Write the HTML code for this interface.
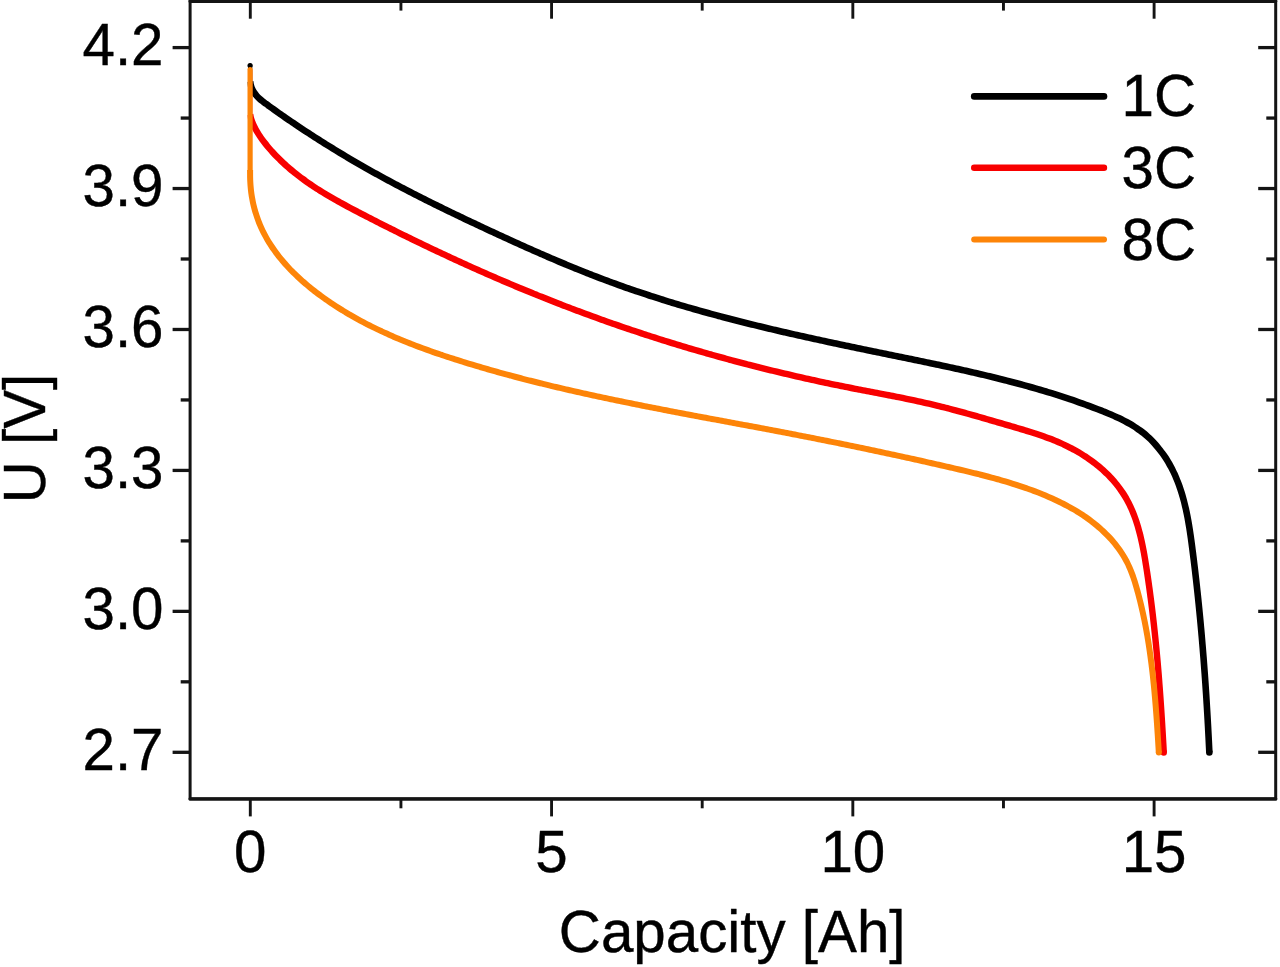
<!DOCTYPE html>
<html lang="en"><head><meta charset="utf-8"><title>Discharge curves</title>
<style>
html,body{margin:0;padding:0;background:#fff;}
body{width:1280px;height:967px;overflow:hidden;}
svg{display:block;}
</style></head><body>
<svg width="1280" height="967" viewBox="0 0 1280 967">
<rect x="0" y="0" width="1280" height="967" fill="#ffffff"/>
<g fill="none" stroke-linecap="round" stroke-linejoin="round">
<clipPath id="rightOfStart"><rect x="247.60" y="0" width="1100" height="967"/></clipPath>
<path d="M250.10 65.60 L250.13 81.51" stroke="#000000" stroke-width="4.2"/>
<circle cx="250.10" cy="65.60" r="2.60" fill="#000000" stroke="none"/>
<path d="M250.13 81.51 C250.25 82.17 250.49 84.17 250.83 85.46 C251.18 86.75 251.64 88.02 252.20 89.23 C252.76 90.44 253.45 91.61 254.20 92.72 C254.95 93.83 255.81 94.86 256.70 95.86 C257.59 96.86 258.56 97.79 259.55 98.70 C260.54 99.61 261.58 100.46 262.62 101.30 C263.66 102.14 264.74 102.93 265.81 103.73 C266.88 104.53 267.98 105.31 269.07 106.09 C270.16 106.87 271.25 107.65 272.34 108.43 C273.43 109.21 274.53 109.99 275.62 110.76 C276.71 111.53 277.80 112.31 278.90 113.08 C280.00 113.85 281.10 114.61 282.20 115.38 C283.30 116.14 284.40 116.91 285.50 117.67 C286.60 118.43 287.71 119.19 288.82 119.95 C289.93 120.71 291.03 121.46 292.14 122.21 C293.25 122.96 294.36 123.72 295.47 124.47 C296.58 125.22 297.69 125.97 298.80 126.71 C299.91 127.45 301.03 128.19 302.15 128.93 C303.27 129.67 304.39 130.41 305.51 131.15 C306.63 131.89 307.75 132.62 308.87 133.35 C309.99 134.08 311.12 134.81 312.24 135.54 C313.37 136.27 314.49 137.00 315.62 137.72 C316.75 138.44 317.88 139.17 319.01 139.89 C320.14 140.61 321.27 141.32 322.40 142.04 C323.53 142.75 324.67 143.47 325.81 144.18 C326.95 144.89 328.08 145.59 329.22 146.30 C330.36 147.01 331.50 147.72 332.64 148.42 C333.78 149.12 334.93 149.82 336.07 150.52 C337.21 151.22 338.35 151.92 339.50 152.61 C340.65 153.30 341.80 153.99 342.95 154.68 C344.10 155.37 345.25 156.06 346.40 156.74 C347.55 157.43 348.71 158.11 349.86 158.79 C351.01 159.47 352.17 160.15 353.33 160.83 C354.49 161.51 355.64 162.18 356.80 162.85 C357.96 163.52 359.12 164.19 360.28 164.86 C361.44 165.53 362.60 166.20 363.77 166.86 C364.94 167.53 366.10 168.19 367.27 168.85 C368.44 169.51 369.60 170.16 370.77 170.82 C371.94 171.47 373.11 172.13 374.28 172.78 C375.45 173.43 376.63 174.08 377.80 174.73 C378.97 175.38 380.14 176.02 381.32 176.66 C382.50 177.30 383.67 177.95 384.85 178.59 C386.03 179.23 387.21 179.87 388.39 180.50 C389.57 181.13 390.75 181.77 391.93 182.40 C393.11 183.03 394.30 183.66 395.48 184.29 C396.66 184.92 397.84 185.54 399.03 186.17 C400.21 186.79 401.40 187.42 402.59 188.04 C403.78 188.66 404.97 189.28 406.16 189.90 C407.35 190.52 408.54 191.13 409.73 191.74 C410.92 192.35 412.11 192.97 413.30 193.58 C414.49 194.19 415.69 194.80 416.88 195.41 C418.07 196.02 419.27 196.62 420.47 197.23 C421.67 197.83 422.86 198.44 424.06 199.04 C425.26 199.64 426.45 200.25 427.65 200.85 C428.85 201.45 430.05 202.04 431.25 202.64 C432.45 203.24 433.65 203.84 434.85 204.43 C436.05 205.02 437.26 205.61 438.46 206.20 C439.66 206.79 440.87 207.38 442.07 207.97 C443.27 208.56 444.48 209.15 445.68 209.74 C446.88 210.33 448.09 210.91 449.30 211.49 C450.51 212.07 451.71 212.66 452.92 213.24 C454.13 213.82 455.33 214.41 456.54 214.99 C457.75 215.57 458.96 216.14 460.17 216.72 C461.38 217.30 462.58 217.87 463.79 218.45 C465.00 219.03 466.22 219.61 467.43 220.18 C468.64 220.75 469.85 221.33 471.06 221.90 C472.27 222.47 473.49 223.04 474.70 223.61 C475.91 224.18 477.13 224.75 478.34 225.32 C479.55 225.89 480.77 226.46 481.98 227.03 C483.19 227.60 484.41 228.16 485.62 228.73 C486.83 229.30 488.04 229.87 489.26 230.43 C490.48 231.00 491.69 231.56 492.91 232.12 C494.13 232.68 495.34 233.25 496.56 233.81 C497.78 234.37 498.99 234.93 500.21 235.49 C501.43 236.05 502.64 236.61 503.86 237.17 C505.08 237.73 506.30 238.29 507.52 238.85 C508.74 239.41 509.95 239.97 511.17 240.52 C512.39 241.08 513.61 241.63 514.83 242.18 C516.05 242.73 517.28 243.29 518.50 243.84 C519.72 244.39 520.94 244.94 522.16 245.49 C523.38 246.04 524.61 246.59 525.83 247.14 C527.05 247.69 528.27 248.24 529.50 248.78 C530.73 249.32 531.95 249.87 533.18 250.41 C534.41 250.95 535.63 251.49 536.86 252.03 C538.09 252.57 539.31 253.11 540.54 253.65 C541.77 254.19 542.99 254.72 544.22 255.25 C545.45 255.78 546.68 256.32 547.91 256.85 C549.14 257.38 550.37 257.91 551.60 258.44 C552.83 258.97 554.07 259.50 555.30 260.02 C556.53 260.54 557.76 261.07 559.00 261.59 C560.24 262.11 561.47 262.63 562.71 263.15 C563.95 263.67 565.18 264.19 566.42 264.70 C567.66 265.21 568.89 265.73 570.13 266.24 C571.37 266.75 572.61 267.26 573.85 267.77 C575.09 268.28 576.34 268.78 577.58 269.28 C578.82 269.78 580.06 270.28 581.30 270.78 C582.54 271.28 583.79 271.78 585.04 272.28 C586.29 272.78 587.53 273.27 588.78 273.76 C590.03 274.25 591.27 274.74 592.52 275.22 C593.77 275.71 595.02 276.19 596.27 276.67 C597.52 277.15 598.77 277.63 600.02 278.11 C601.27 278.59 602.52 279.07 603.78 279.54 C605.03 280.01 606.29 280.48 607.55 280.95 C608.81 281.42 610.06 281.88 611.32 282.34 C612.58 282.80 613.84 283.26 615.10 283.72 C616.36 284.18 617.62 284.64 618.88 285.09 C620.14 285.54 621.40 285.99 622.66 286.44 C623.92 286.89 625.20 287.33 626.46 287.77 C627.73 288.21 628.98 288.65 630.25 289.09 C631.52 289.53 632.79 289.97 634.06 290.40 C635.33 290.83 636.59 291.26 637.86 291.69 C639.13 292.12 640.40 292.55 641.67 292.97 C642.94 293.40 644.22 293.82 645.49 294.24 C646.76 294.66 648.03 295.07 649.31 295.49 C650.58 295.91 651.87 296.32 653.14 296.73 C654.41 297.14 655.68 297.54 656.96 297.95 C658.24 298.36 659.52 298.77 660.80 299.17 C662.08 299.57 663.35 299.97 664.63 300.37 C665.91 300.77 667.20 301.16 668.48 301.55 C669.76 301.94 671.04 302.34 672.32 302.73 C673.60 303.12 674.89 303.50 676.17 303.89 C677.45 304.27 678.74 304.66 680.02 305.04 C681.30 305.42 682.59 305.80 683.88 306.18 C685.17 306.56 686.45 306.94 687.74 307.31 C689.03 307.69 690.31 308.06 691.60 308.43 C692.89 308.80 694.17 309.16 695.46 309.53 C696.75 309.90 698.04 310.27 699.33 310.63 C700.62 310.99 701.91 311.35 703.20 311.71 C704.49 312.07 705.79 312.42 707.08 312.78 C708.37 313.14 709.67 313.50 710.96 313.85 C712.25 314.20 713.55 314.55 714.84 314.90 C716.13 315.25 717.43 315.59 718.72 315.94 C720.01 316.29 721.32 316.63 722.61 316.97 C723.90 317.31 725.20 317.66 726.49 318.00 C727.78 318.34 729.08 318.68 730.38 319.01 C731.68 319.34 732.98 319.68 734.28 320.01 C735.58 320.34 736.87 320.68 738.17 321.01 C739.47 321.34 740.77 321.67 742.07 322.00 C743.37 322.33 744.67 322.66 745.97 322.98 C747.27 323.31 748.57 323.63 749.87 323.95 C751.17 324.27 752.48 324.59 753.78 324.91 C755.08 325.23 756.38 325.54 757.68 325.86 C758.98 326.18 760.29 326.50 761.59 326.81 C762.89 327.12 764.20 327.44 765.50 327.75 C766.80 328.06 768.11 328.37 769.41 328.68 C770.71 328.99 772.02 329.29 773.32 329.60 C774.62 329.91 775.94 330.21 777.24 330.52 C778.54 330.82 779.85 331.13 781.15 331.43 C782.45 331.73 783.76 332.04 785.07 332.34 C786.38 332.64 787.68 332.93 788.99 333.23 C790.30 333.53 791.60 333.83 792.91 334.13 C794.22 334.43 795.52 334.72 796.83 335.01 C798.14 335.30 799.44 335.60 800.75 335.89 C802.06 336.18 803.37 336.48 804.68 336.77 C805.99 337.06 807.29 337.35 808.60 337.64 C809.91 337.93 811.22 338.21 812.53 338.50 C813.84 338.79 815.15 339.07 816.46 339.36 C817.77 339.65 819.07 339.94 820.38 340.22 C821.69 340.50 823.00 340.79 824.31 341.07 C825.62 341.35 826.93 341.64 828.24 341.92 C829.55 342.20 830.86 342.48 832.17 342.76 C833.48 343.04 834.80 343.32 836.11 343.60 C837.42 343.88 838.73 344.15 840.04 344.43 C841.35 344.71 842.66 344.99 843.97 345.27 C845.28 345.55 846.60 345.83 847.91 346.10 C849.22 346.38 850.53 346.65 851.84 346.92 C853.15 347.19 854.47 347.47 855.78 347.74 C857.09 348.01 858.40 348.30 859.71 348.57 C861.02 348.84 862.34 349.11 863.65 349.38 C864.96 349.65 866.28 349.93 867.59 350.20 C868.90 350.47 870.21 350.74 871.52 351.01 C872.83 351.28 874.15 351.56 875.46 351.83 C876.77 352.10 878.09 352.37 879.40 352.64 C880.71 352.91 882.03 353.18 883.34 353.45 C884.65 353.72 885.96 353.98 887.27 354.25 C888.58 354.52 889.90 354.79 891.21 355.06 C892.52 355.33 893.84 355.60 895.15 355.87 C896.46 356.14 897.78 356.41 899.09 356.68 C900.40 356.95 901.72 357.21 903.03 357.48 C904.34 357.75 905.66 358.02 906.97 358.29 C908.28 358.56 909.60 358.83 910.91 359.10 C912.22 359.37 913.53 359.64 914.84 359.91 C916.15 360.18 917.47 360.45 918.78 360.72 C920.09 360.99 921.41 361.27 922.72 361.54 C924.03 361.81 925.34 362.09 926.65 362.36 C927.96 362.63 929.28 362.91 930.59 363.18 C931.90 363.45 933.21 363.73 934.52 364.01 C935.83 364.29 937.15 364.56 938.46 364.84 C939.77 365.12 941.08 365.40 942.39 365.68 C943.70 365.96 945.01 366.24 946.32 366.52 C947.63 366.80 948.94 367.08 950.25 367.37 C951.56 367.66 952.87 367.94 954.18 368.23 C955.49 368.52 956.80 368.80 958.11 369.09 C959.42 369.38 960.72 369.67 962.03 369.96 C963.34 370.25 964.64 370.54 965.95 370.84 C967.26 371.13 968.57 371.43 969.88 371.73 C971.19 372.03 972.48 372.32 973.79 372.62 C975.10 372.92 976.40 373.22 977.71 373.53 C979.02 373.83 980.33 374.14 981.63 374.45 C982.93 374.76 984.24 375.06 985.54 375.37 C986.84 375.68 988.15 376.00 989.45 376.31 C990.75 376.62 992.05 376.94 993.35 377.26 C994.65 377.58 995.96 377.90 997.26 378.22 C998.56 378.54 999.86 378.87 1001.16 379.20 C1002.46 379.53 1003.76 379.85 1005.06 380.18 C1006.36 380.51 1007.65 380.85 1008.95 381.19 C1010.25 381.53 1011.54 381.86 1012.84 382.20 C1014.14 382.54 1015.44 382.88 1016.73 383.23 C1018.02 383.58 1019.32 383.92 1020.61 384.27 C1021.90 384.62 1023.20 384.97 1024.49 385.33 C1025.78 385.69 1027.07 386.05 1028.36 386.41 C1029.65 386.77 1030.94 387.13 1032.23 387.50 C1033.52 387.87 1034.81 388.24 1036.10 388.61 C1037.39 388.98 1038.67 389.35 1039.96 389.73 C1041.25 390.11 1042.53 390.50 1043.81 390.88 C1045.09 391.26 1046.38 391.65 1047.66 392.04 C1048.94 392.43 1050.22 392.82 1051.50 393.22 C1052.78 393.62 1054.06 394.02 1055.34 394.42 C1056.62 394.82 1057.89 395.22 1059.17 395.63 C1060.45 396.04 1061.72 396.45 1063.00 396.87 C1064.28 397.29 1065.55 397.71 1066.82 398.13 C1068.09 398.55 1069.36 398.98 1070.63 399.41 C1071.90 399.84 1073.16 400.27 1074.43 400.71 C1075.70 401.15 1076.97 401.58 1078.23 402.03 C1079.49 402.47 1080.76 402.93 1082.02 403.38 C1083.28 403.83 1084.54 404.28 1085.80 404.74 C1087.06 405.20 1088.31 405.66 1089.57 406.13 C1090.83 406.60 1092.09 407.06 1093.34 407.54 C1094.59 408.02 1095.84 408.50 1097.09 408.98 C1098.34 409.46 1099.59 409.95 1100.84 410.44 C1102.09 410.93 1103.33 411.42 1104.57 411.92 C1105.81 412.42 1107.05 412.93 1108.29 413.45 C1109.53 413.97 1110.76 414.49 1111.99 415.02 C1113.22 415.55 1114.45 416.09 1115.67 416.65 C1116.89 417.20 1118.11 417.77 1119.32 418.35 C1120.53 418.93 1121.73 419.51 1122.92 420.12 C1124.11 420.73 1125.30 421.35 1126.48 421.99 C1127.66 422.63 1128.83 423.28 1129.99 423.95 C1131.15 424.62 1132.30 425.31 1133.44 426.02 C1134.58 426.73 1135.70 427.45 1136.81 428.20 C1137.92 428.95 1139.02 429.72 1140.10 430.51 C1141.18 431.30 1142.25 432.11 1143.30 432.95 C1144.35 433.79 1145.38 434.65 1146.39 435.53 C1147.40 436.41 1148.39 437.31 1149.36 438.23 C1150.33 439.15 1151.29 440.10 1152.22 441.06 C1153.15 442.02 1154.07 443.00 1154.97 443.99 C1155.87 444.99 1156.74 446.00 1157.60 447.03 C1158.46 448.06 1159.30 449.10 1160.12 450.16 C1160.94 451.22 1161.74 452.29 1162.53 453.38 C1163.32 454.47 1164.08 455.57 1164.83 456.68 C1165.58 457.79 1166.30 458.92 1167.01 460.06 C1167.72 461.20 1168.40 462.35 1169.07 463.51 C1169.74 464.67 1170.39 465.85 1171.02 467.03 C1171.65 468.21 1172.26 469.40 1172.85 470.60 C1173.44 471.80 1174.02 473.01 1174.58 474.23 C1175.14 475.45 1175.67 476.69 1176.19 477.92 C1176.71 479.16 1177.21 480.39 1177.70 481.64 C1178.19 482.89 1178.66 484.15 1179.12 485.41 C1179.57 486.67 1180.01 487.94 1180.43 489.21 C1180.85 490.48 1181.26 491.75 1181.65 493.03 C1182.04 494.31 1182.42 495.60 1182.79 496.89 C1183.16 498.18 1183.51 499.47 1183.85 500.77 C1184.19 502.07 1184.51 503.37 1184.83 504.67 C1185.15 505.97 1185.45 507.27 1185.75 508.58 C1186.05 509.89 1186.33 511.20 1186.60 512.51 C1186.87 513.82 1187.13 515.13 1187.39 516.45 C1187.65 517.77 1187.89 519.09 1188.13 520.41 C1188.37 521.73 1188.60 523.05 1188.82 524.37 C1189.04 525.69 1189.26 527.01 1189.47 528.33 C1189.68 529.65 1189.88 530.98 1190.08 532.31 C1190.28 533.64 1190.48 534.96 1190.67 536.29 C1190.86 537.62 1191.04 538.94 1191.22 540.27 C1191.40 541.60 1191.58 542.92 1191.76 544.25 C1191.94 545.58 1192.11 546.91 1192.28 548.24 C1192.45 549.57 1192.62 550.90 1192.79 552.23 C1192.96 553.56 1193.12 554.89 1193.29 556.22 C1193.46 557.55 1193.63 558.88 1193.79 560.21 C1193.95 561.54 1194.11 562.87 1194.27 564.20 C1194.43 565.53 1194.59 566.86 1194.75 568.19 C1194.91 569.52 1195.07 570.85 1195.22 572.18 C1195.38 573.51 1195.53 574.85 1195.68 576.18 C1195.83 577.51 1195.99 578.84 1196.14 580.17 C1196.29 581.50 1196.43 582.84 1196.58 584.17 C1196.73 585.50 1196.87 586.83 1197.02 588.16 C1197.17 589.49 1197.32 590.83 1197.46 592.16 C1197.60 593.49 1197.74 594.83 1197.88 596.16 C1198.02 597.49 1198.16 598.83 1198.30 600.16 C1198.44 601.49 1198.58 602.83 1198.71 604.16 C1198.85 605.49 1198.98 606.83 1199.11 608.16 C1199.24 609.49 1199.37 610.83 1199.50 612.16 C1199.63 613.49 1199.76 614.83 1199.89 616.16 C1200.02 617.49 1200.14 618.83 1200.27 620.16 C1200.40 621.49 1200.53 622.82 1200.65 624.16 C1200.77 625.50 1200.89 626.83 1201.01 628.17 C1201.13 629.50 1201.25 630.83 1201.37 632.17 C1201.49 633.50 1201.61 634.84 1201.73 636.18 C1201.85 637.51 1201.96 638.84 1202.07 640.18 C1202.18 641.51 1202.30 642.85 1202.41 644.19 C1202.52 645.53 1202.64 646.87 1202.75 648.20 C1202.86 649.54 1202.96 650.87 1203.07 652.20 C1203.18 653.54 1203.28 654.87 1203.39 656.21 C1203.50 657.55 1203.61 658.88 1203.71 660.22 C1203.81 661.56 1203.91 662.89 1204.01 664.23 C1204.11 665.57 1204.21 666.90 1204.31 668.24 C1204.41 669.58 1204.51 670.91 1204.61 672.25 C1204.71 673.59 1204.81 674.92 1204.90 676.26 C1205.00 677.60 1205.09 678.93 1205.18 680.27 C1205.27 681.61 1205.37 682.94 1205.46 684.28 C1205.55 685.62 1205.64 686.95 1205.73 688.29 C1205.82 689.63 1205.91 690.96 1206.00 692.30 C1206.09 693.64 1206.17 694.97 1206.26 696.31 C1206.35 697.65 1206.43 698.98 1206.51 700.32 C1206.59 701.66 1206.68 703.00 1206.76 704.34 C1206.84 705.68 1206.92 707.01 1207.00 708.35 C1207.08 709.69 1207.16 711.02 1207.24 712.36 C1207.32 713.70 1207.39 715.04 1207.47 716.38 C1207.55 717.72 1207.62 719.05 1207.70 720.39 C1207.78 721.73 1207.85 723.07 1207.92 724.41 C1207.99 725.75 1208.07 727.08 1208.14 728.42 C1208.21 729.76 1208.28 731.10 1208.35 732.44 C1208.42 733.78 1208.49 735.11 1208.56 736.45 C1208.63 737.79 1208.70 739.13 1208.77 740.47 C1208.84 741.81 1208.89 743.14 1208.96 744.48 C1209.03 745.82 1209.10 747.16 1209.16 748.50 C1209.23 749.84 1209.32 751.84 1209.35 752.51" stroke="#000000" stroke-width="6.6" stroke-linecap="butt" clip-path="url(#rightOfStart)"/>
<circle cx="1209.35" cy="752.51" r="3.30" fill="#000000" stroke="none"/>
<path d="M250.10 70.00 L250.18 114.49" stroke="#f80000" stroke-width="4.2"/>
<path d="M250.18 114.49 C250.32 115.14 250.64 117.13 251.00 118.42 C251.36 119.71 251.84 120.96 252.33 122.21 C252.82 123.45 253.36 124.68 253.93 125.89 C254.50 127.10 255.12 128.28 255.76 129.46 C256.40 130.64 257.08 131.80 257.78 132.94 C258.48 134.08 259.20 135.20 259.95 136.31 C260.70 137.42 261.47 138.52 262.26 139.60 C263.05 140.68 263.86 141.75 264.68 142.81 C265.50 143.87 266.35 144.91 267.20 145.94 C268.05 146.97 268.92 148.00 269.79 149.01 C270.67 150.02 271.55 151.03 272.45 152.02 C273.35 153.01 274.26 153.99 275.18 154.96 C276.10 155.93 277.04 156.89 277.98 157.84 C278.92 158.79 279.88 159.73 280.84 160.66 C281.80 161.59 282.78 162.51 283.76 163.42 C284.74 164.33 285.74 165.22 286.74 166.11 C287.74 167.00 288.76 167.87 289.78 168.74 C290.80 169.61 291.82 170.47 292.86 171.32 C293.90 172.17 294.94 173.00 295.99 173.83 C297.04 174.66 298.10 175.48 299.17 176.29 C300.24 177.10 301.31 177.91 302.39 178.70 C303.47 179.49 304.55 180.28 305.64 181.05 C306.73 181.83 307.83 182.59 308.93 183.35 C310.03 184.11 311.15 184.87 312.26 185.61 C313.37 186.36 314.49 187.09 315.61 187.82 C316.73 188.55 317.86 189.26 318.99 189.98 C320.12 190.69 321.26 191.41 322.40 192.11 C323.54 192.81 324.68 193.51 325.83 194.20 C326.98 194.89 328.13 195.57 329.29 196.25 C330.45 196.93 331.60 197.60 332.76 198.27 C333.92 198.94 335.08 199.60 336.25 200.26 C337.42 200.92 338.58 201.58 339.75 202.23 C340.92 202.88 342.09 203.53 343.27 204.17 C344.44 204.81 345.62 205.45 346.80 206.08 C347.98 206.72 349.16 207.35 350.34 207.98 C351.52 208.61 352.70 209.24 353.89 209.86 C355.07 210.48 356.26 211.10 357.45 211.72 C358.64 212.34 359.82 212.96 361.01 213.58 C362.20 214.20 363.39 214.81 364.58 215.42 C365.77 216.03 366.96 216.65 368.15 217.26 C369.34 217.87 370.54 218.48 371.73 219.09 C372.92 219.70 374.11 220.31 375.30 220.92 C376.49 221.53 377.69 222.13 378.88 222.74 C380.07 223.35 381.28 223.96 382.47 224.56 C383.67 225.16 384.86 225.76 386.05 226.36 C387.25 226.96 388.44 227.57 389.64 228.17 C390.84 228.77 392.04 229.36 393.24 229.96 C394.44 230.56 395.63 231.15 396.83 231.75 C398.03 232.35 399.23 232.95 400.43 233.54 C401.63 234.13 402.83 234.72 404.03 235.31 C405.23 235.90 406.44 236.49 407.64 237.08 C408.84 237.67 410.05 238.26 411.25 238.85 C412.45 239.44 413.66 240.03 414.86 240.61 C416.06 241.20 417.28 241.78 418.48 242.36 C419.69 242.94 420.88 243.52 422.09 244.10 C423.30 244.68 424.51 245.26 425.72 245.84 C426.93 246.42 428.13 246.99 429.34 247.57 C430.55 248.15 431.76 248.73 432.97 249.30 C434.18 249.87 435.39 250.44 436.60 251.01 C437.81 251.58 439.02 252.15 440.23 252.72 C441.44 253.29 442.66 253.86 443.87 254.43 C445.08 255.00 446.29 255.56 447.51 256.12 C448.73 256.68 449.95 257.25 451.16 257.81 C452.38 258.37 453.58 258.94 454.80 259.50 C456.02 260.06 457.24 260.61 458.46 261.17 C459.68 261.73 460.89 262.28 462.11 262.84 C463.33 263.39 464.55 263.95 465.77 264.50 C466.99 265.05 468.21 265.60 469.43 266.15 C470.65 266.70 471.87 267.25 473.09 267.80 C474.31 268.35 475.54 268.89 476.76 269.44 C477.98 269.99 479.21 270.53 480.43 271.07 C481.65 271.61 482.88 272.15 484.10 272.69 C485.33 273.23 486.55 273.77 487.78 274.31 C489.01 274.85 490.23 275.38 491.46 275.92 C492.69 276.46 493.92 276.99 495.15 277.52 C496.38 278.05 497.61 278.58 498.84 279.11 C500.07 279.64 501.30 280.16 502.53 280.69 C503.76 281.22 504.99 281.75 506.22 282.27 C507.45 282.79 508.69 283.32 509.92 283.84 C511.15 284.36 512.39 284.88 513.62 285.40 C514.85 285.92 516.09 286.43 517.32 286.95 C518.56 287.47 519.79 287.99 521.03 288.50 C522.27 289.01 523.50 289.52 524.74 290.03 C525.98 290.54 527.22 291.05 528.46 291.56 C529.70 292.07 530.94 292.57 532.18 293.08 C533.42 293.58 534.66 294.09 535.90 294.59 C537.14 295.09 538.38 295.60 539.62 296.10 C540.86 296.60 542.11 297.09 543.35 297.59 C544.59 298.09 545.84 298.58 547.08 299.08 C548.33 299.57 549.57 300.07 550.82 300.56 C552.07 301.05 553.31 301.54 554.56 302.03 C555.81 302.52 557.05 303.00 558.30 303.49 C559.55 303.98 560.79 304.46 562.04 304.94 C563.29 305.42 564.54 305.90 565.79 306.38 C567.04 306.86 568.29 307.34 569.54 307.82 C570.79 308.30 572.05 308.77 573.30 309.24 C574.55 309.71 575.81 310.19 577.06 310.66 C578.31 311.13 579.57 311.60 580.82 312.07 C582.08 312.54 583.33 313.00 584.59 313.47 C585.85 313.94 587.10 314.40 588.36 314.86 C589.62 315.32 590.87 315.78 592.13 316.24 C593.39 316.70 594.64 317.16 595.90 317.61 C597.16 318.06 598.42 318.52 599.68 318.97 C600.94 319.42 602.20 319.87 603.46 320.32 C604.72 320.77 605.99 321.22 607.25 321.67 C608.51 322.12 609.78 322.56 611.04 323.00 C612.30 323.44 613.57 323.89 614.83 324.33 C616.10 324.77 617.37 325.20 618.63 325.64 C619.89 326.08 621.15 326.52 622.42 326.95 C623.69 327.38 624.96 327.81 626.23 328.24 C627.50 328.67 628.76 329.10 630.03 329.53 C631.30 329.96 632.57 330.38 633.84 330.81 C635.11 331.24 636.38 331.66 637.65 332.08 C638.92 332.50 640.19 332.92 641.46 333.34 C642.73 333.76 644.01 334.17 645.28 334.59 C646.55 335.00 647.83 335.42 649.10 335.83 C650.38 336.24 651.65 336.65 652.93 337.06 C654.20 337.47 655.48 337.87 656.75 338.28 C658.02 338.69 659.30 339.10 660.58 339.50 C661.86 339.90 663.13 340.30 664.41 340.70 C665.69 341.10 666.97 341.50 668.25 341.90 C669.53 342.30 670.81 342.69 672.09 343.08 C673.37 343.47 674.65 343.87 675.93 344.26 C677.21 344.65 678.49 345.04 679.77 345.43 C681.05 345.82 682.34 346.20 683.62 346.59 C684.90 346.97 686.19 347.36 687.47 347.74 C688.75 348.12 690.04 348.50 691.32 348.88 C692.60 349.26 693.88 349.63 695.17 350.01 C696.45 350.38 697.74 350.76 699.03 351.13 C700.32 351.50 701.60 351.87 702.89 352.24 C704.18 352.61 705.46 352.98 706.75 353.35 C708.04 353.72 709.32 354.08 710.61 354.44 C711.90 354.80 713.19 355.17 714.48 355.53 C715.77 355.89 717.06 356.25 718.35 356.61 C719.64 356.97 720.93 357.33 722.22 357.68 C723.51 358.03 724.81 358.38 726.10 358.73 C727.39 359.08 728.69 359.44 729.98 359.79 C731.27 360.14 732.57 360.49 733.86 360.83 C735.15 361.17 736.45 361.52 737.74 361.86 C739.03 362.20 740.33 362.54 741.62 362.88 C742.91 363.22 744.21 363.56 745.51 363.90 C746.81 364.24 748.10 364.58 749.40 364.91 C750.70 365.24 751.99 365.57 753.29 365.90 C754.59 366.23 755.88 366.56 757.18 366.89 C758.48 367.22 759.78 367.55 761.08 367.87 C762.38 368.19 763.67 368.52 764.97 368.84 C766.27 369.16 767.57 369.48 768.87 369.80 C770.17 370.12 771.48 370.44 772.78 370.76 C774.08 371.08 775.38 371.39 776.68 371.70 C777.98 372.01 779.29 372.33 780.59 372.64 C781.89 372.95 783.20 373.26 784.50 373.57 C785.80 373.88 787.11 374.18 788.41 374.48 C789.71 374.78 791.02 375.09 792.32 375.39 C793.62 375.69 794.93 376.00 796.23 376.30 C797.53 376.60 798.84 376.89 800.15 377.19 C801.46 377.49 802.76 377.78 804.07 378.07 C805.38 378.36 806.68 378.66 807.99 378.95 C809.30 379.24 810.60 379.52 811.91 379.81 C813.22 380.10 814.52 380.38 815.83 380.67 C817.14 380.96 818.45 381.24 819.76 381.52 C821.07 381.80 822.38 382.08 823.69 382.36 C825.00 382.64 826.31 382.91 827.62 383.19 C828.93 383.47 830.24 383.75 831.55 384.02 C832.86 384.29 834.17 384.56 835.48 384.83 C836.79 385.10 838.11 385.37 839.42 385.64 C840.73 385.91 842.05 386.18 843.36 386.44 C844.67 386.70 845.98 386.97 847.29 387.23 C848.60 387.49 849.91 387.75 851.23 388.01 C852.55 388.27 853.87 388.52 855.18 388.78 C856.49 389.04 857.81 389.30 859.12 389.55 C860.43 389.81 861.74 390.06 863.06 390.31 C864.38 390.56 865.69 390.82 867.01 391.07 C868.33 391.32 869.63 391.57 870.95 391.82 C872.27 392.07 873.59 392.33 874.90 392.58 C876.21 392.83 877.53 393.09 878.84 393.34 C880.15 393.59 881.47 393.84 882.79 394.09 C884.11 394.34 885.42 394.60 886.73 394.86 C888.04 395.12 889.36 395.37 890.67 395.63 C891.98 395.89 893.31 396.14 894.62 396.40 C895.93 396.66 897.25 396.92 898.56 397.18 C899.87 397.44 901.18 397.71 902.49 397.98 C903.80 398.25 905.12 398.51 906.43 398.78 C907.74 399.05 909.05 399.32 910.36 399.60 C911.67 399.88 912.98 400.16 914.29 400.44 C915.60 400.72 916.91 401.00 918.22 401.28 C919.53 401.56 920.83 401.86 922.14 402.15 C923.45 402.44 924.75 402.74 926.06 403.04 C927.37 403.34 928.67 403.63 929.97 403.94 C931.27 404.25 932.58 404.56 933.88 404.87 C935.18 405.18 936.48 405.50 937.78 405.82 C939.08 406.14 940.38 406.45 941.68 406.78 C942.98 407.10 944.27 407.44 945.57 407.77 C946.87 408.10 948.16 408.43 949.46 408.77 C950.76 409.11 952.06 409.45 953.35 409.79 C954.64 410.13 955.94 410.48 957.23 410.83 C958.52 411.18 959.82 411.53 961.11 411.88 C962.40 412.23 963.69 412.58 964.98 412.94 C966.27 413.30 967.56 413.65 968.85 414.01 C970.14 414.37 971.43 414.73 972.72 415.09 C974.01 415.45 975.30 415.81 976.59 416.18 C977.88 416.55 979.16 416.92 980.45 417.29 C981.74 417.66 983.02 418.02 984.31 418.39 C985.60 418.76 986.88 419.14 988.17 419.51 C989.46 419.88 990.74 420.26 992.03 420.63 C993.32 421.00 994.61 421.38 995.89 421.75 C997.17 422.12 998.46 422.50 999.74 422.87 C1001.02 423.25 1002.32 423.62 1003.60 424.00 C1004.88 424.38 1006.17 424.75 1007.45 425.13 C1008.74 425.51 1010.02 425.88 1011.31 426.26 C1012.59 426.63 1013.88 427.00 1015.16 427.38 C1016.44 427.76 1017.74 428.14 1019.02 428.52 C1020.30 428.90 1021.59 429.29 1022.87 429.67 C1024.15 430.06 1025.43 430.44 1026.71 430.83 C1027.99 431.22 1029.27 431.62 1030.55 432.02 C1031.83 432.42 1033.10 432.83 1034.37 433.24 C1035.64 433.65 1036.92 434.07 1038.19 434.50 C1039.46 434.93 1040.72 435.36 1041.99 435.80 C1043.26 436.24 1044.52 436.68 1045.78 437.14 C1047.04 437.60 1048.29 438.06 1049.54 438.54 C1050.79 439.02 1052.04 439.50 1053.28 440.00 C1054.52 440.50 1055.76 441.00 1057.00 441.52 C1058.24 442.04 1059.47 442.58 1060.69 443.12 C1061.91 443.66 1063.13 444.21 1064.34 444.78 C1065.55 445.35 1066.76 445.92 1067.96 446.52 C1069.16 447.12 1070.36 447.73 1071.54 448.35 C1072.72 448.97 1073.90 449.61 1075.07 450.26 C1076.24 450.91 1077.41 451.58 1078.56 452.26 C1079.71 452.94 1080.86 453.63 1081.99 454.34 C1083.12 455.05 1084.25 455.77 1085.37 456.51 C1086.49 457.25 1087.60 458.00 1088.70 458.76 C1089.80 459.52 1090.89 460.31 1091.97 461.10 C1093.05 461.90 1094.12 462.71 1095.17 463.53 C1096.23 464.35 1097.27 465.19 1098.30 466.04 C1099.33 466.89 1100.35 467.76 1101.36 468.64 C1102.37 469.52 1103.37 470.42 1104.35 471.33 C1105.33 472.24 1106.30 473.16 1107.25 474.10 C1108.20 475.04 1109.15 476.00 1110.07 476.97 C1110.99 477.94 1111.90 478.92 1112.79 479.92 C1113.68 480.92 1114.55 481.93 1115.41 482.96 C1116.27 483.99 1117.11 485.04 1117.93 486.10 C1118.75 487.16 1119.55 488.22 1120.33 489.31 C1121.11 490.40 1121.87 491.50 1122.61 492.62 C1123.35 493.74 1124.07 494.87 1124.76 496.01 C1125.45 497.15 1126.13 498.31 1126.78 499.48 C1127.43 500.65 1128.06 501.84 1128.67 503.03 C1129.28 504.22 1129.86 505.43 1130.43 506.64 C1131.00 507.85 1131.54 509.08 1132.07 510.31 C1132.60 511.54 1133.10 512.78 1133.59 514.03 C1134.08 515.28 1134.55 516.53 1135.00 517.79 C1135.45 519.05 1135.88 520.31 1136.30 521.58 C1136.72 522.85 1137.13 524.13 1137.52 525.41 C1137.91 526.69 1138.28 527.98 1138.64 529.27 C1139.00 530.56 1139.35 531.85 1139.68 533.15 C1140.02 534.45 1140.34 535.75 1140.65 537.05 C1140.96 538.35 1141.26 539.65 1141.55 540.96 C1141.84 542.27 1142.12 543.58 1142.39 544.89 C1142.66 546.20 1142.93 547.52 1143.18 548.83 C1143.43 550.14 1143.68 551.46 1143.92 552.78 C1144.16 554.10 1144.38 555.41 1144.61 556.73 C1144.84 558.05 1145.06 559.38 1145.28 560.70 C1145.50 562.02 1145.71 563.34 1145.92 564.66 C1146.13 565.98 1146.33 567.31 1146.53 568.63 C1146.73 569.95 1146.94 571.27 1147.14 572.60 C1147.34 573.93 1147.53 575.26 1147.72 576.58 C1147.91 577.90 1148.11 579.22 1148.30 580.55 C1148.49 581.88 1148.67 583.20 1148.86 584.53 C1149.05 585.86 1149.24 587.18 1149.42 588.51 C1149.60 589.84 1149.78 591.16 1149.96 592.49 C1150.14 593.82 1150.31 595.14 1150.48 596.47 C1150.65 597.80 1150.83 599.12 1151.00 600.45 C1151.17 601.78 1151.33 603.11 1151.50 604.44 C1151.67 605.77 1151.84 607.10 1152.00 608.43 C1152.16 609.76 1152.32 611.08 1152.48 612.41 C1152.64 613.74 1152.80 615.07 1152.95 616.40 C1153.11 617.73 1153.26 619.06 1153.41 620.39 C1153.56 621.72 1153.71 623.06 1153.86 624.39 C1154.01 625.72 1154.15 627.05 1154.29 628.38 C1154.43 629.71 1154.58 631.04 1154.72 632.37 C1154.86 633.70 1155.00 635.04 1155.14 636.37 C1155.28 637.70 1155.42 639.03 1155.55 640.36 C1155.68 641.69 1155.81 643.03 1155.94 644.36 C1156.07 645.69 1156.20 647.03 1156.33 648.36 C1156.46 649.69 1156.59 651.03 1156.71 652.36 C1156.84 653.69 1156.96 655.03 1157.08 656.36 C1157.20 657.69 1157.32 659.03 1157.44 660.36 C1157.56 661.69 1157.67 663.03 1157.79 664.36 C1157.90 665.69 1158.02 667.02 1158.13 668.36 C1158.24 669.70 1158.35 671.03 1158.46 672.37 C1158.57 673.71 1158.68 675.04 1158.79 676.37 C1158.90 677.70 1159.00 679.03 1159.10 680.37 C1159.20 681.71 1159.31 683.04 1159.41 684.38 C1159.51 685.72 1159.62 687.04 1159.72 688.38 C1159.82 689.72 1159.91 691.05 1160.01 692.39 C1160.11 693.73 1160.20 695.06 1160.30 696.40 C1160.39 697.74 1160.49 699.06 1160.58 700.40 C1160.67 701.74 1160.77 703.07 1160.86 704.41 C1160.95 705.75 1161.04 707.08 1161.13 708.42 C1161.22 709.76 1161.30 711.09 1161.39 712.43 C1161.48 713.77 1161.57 715.11 1161.65 716.44 C1161.74 717.78 1161.82 719.11 1161.90 720.44 C1161.98 721.78 1162.07 723.11 1162.15 724.45 C1162.23 725.79 1162.31 727.12 1162.39 728.46 C1162.47 729.80 1162.55 731.13 1162.63 732.47 C1162.71 733.81 1162.78 735.14 1162.86 736.48 C1162.94 737.82 1163.01 739.15 1163.09 740.49 C1163.17 741.83 1163.24 743.16 1163.32 744.50 C1163.39 745.84 1163.47 747.18 1163.54 748.52 C1163.61 749.86 1163.72 751.86 1163.76 752.53" stroke="#f80000" stroke-width="6.4" stroke-linecap="butt" clip-path="url(#rightOfStart)"/>
<circle cx="1163.76" cy="752.53" r="3.20" fill="#f80000" stroke="none"/>
<path d="M250.10 69.50 L250.10 170.00" stroke="#fd8408" stroke-width="5.2"/>
<path d="M250.10 170.00 C250.10 170.67 250.09 172.69 250.10 174.03 C250.11 175.37 250.10 176.71 250.14 178.05 C250.17 179.39 250.24 180.73 250.31 182.07 C250.38 183.41 250.46 184.75 250.57 186.09 C250.68 187.43 250.80 188.77 250.95 190.10 C251.10 191.43 251.27 192.76 251.46 194.09 C251.65 195.42 251.87 196.75 252.10 198.07 C252.33 199.39 252.59 200.71 252.87 202.02 C253.15 203.33 253.44 204.65 253.76 205.95 C254.08 207.25 254.42 208.55 254.78 209.84 C255.14 211.13 255.52 212.42 255.92 213.70 C256.32 214.98 256.75 216.25 257.19 217.52 C257.63 218.79 258.10 220.05 258.58 221.30 C259.06 222.55 259.56 223.80 260.08 225.04 C260.60 226.28 261.15 227.50 261.71 228.72 C262.27 229.94 262.86 231.15 263.46 232.35 C264.06 233.55 264.68 234.74 265.32 235.92 C265.96 237.10 266.62 238.27 267.29 239.43 C267.96 240.59 268.65 241.74 269.36 242.88 C270.07 244.02 270.80 245.14 271.54 246.26 C272.28 247.38 273.04 248.49 273.81 249.59 C274.58 250.69 275.37 251.77 276.17 252.85 C276.97 253.93 277.78 254.99 278.61 256.05 C279.44 257.11 280.28 258.15 281.14 259.19 C282.00 260.23 282.86 261.25 283.74 262.26 C284.62 263.27 285.51 264.28 286.41 265.27 C287.31 266.26 288.23 267.25 289.15 268.22 C290.07 269.20 291.01 270.17 291.95 271.12 C292.89 272.07 293.85 273.01 294.81 273.95 C295.77 274.88 296.74 275.81 297.72 276.73 C298.70 277.65 299.69 278.55 300.69 279.45 C301.69 280.35 302.69 281.24 303.70 282.12 C304.71 283.00 305.73 283.88 306.76 284.74 C307.79 285.61 308.82 286.46 309.86 287.31 C310.90 288.16 311.95 289.00 313.00 289.83 C314.05 290.66 315.11 291.49 316.18 292.30 C317.25 293.12 318.32 293.92 319.40 294.72 C320.48 295.52 321.55 296.31 322.64 297.10 C323.73 297.89 324.82 298.67 325.92 299.44 C327.02 300.21 328.12 300.97 329.23 301.73 C330.34 302.49 331.45 303.24 332.57 303.98 C333.69 304.72 334.81 305.46 335.93 306.19 C337.06 306.92 338.19 307.65 339.32 308.37 C340.45 309.09 341.60 309.79 342.74 310.49 C343.88 311.19 345.03 311.89 346.18 312.58 C347.33 313.27 348.49 313.95 349.65 314.63 C350.81 315.31 351.97 315.98 353.14 316.64 C354.31 317.30 355.48 317.96 356.65 318.61 C357.82 319.26 359.00 319.91 360.18 320.55 C361.36 321.19 362.54 321.81 363.73 322.44 C364.92 323.06 366.11 323.69 367.30 324.30 C368.49 324.91 369.69 325.52 370.89 326.12 C372.09 326.72 373.30 327.32 374.50 327.91 C375.70 328.50 376.91 329.08 378.12 329.66 C379.33 330.24 380.55 330.81 381.77 331.38 C382.99 331.95 384.20 332.51 385.42 333.07 C386.64 333.63 387.86 334.18 389.09 334.72 C390.32 335.27 391.55 335.80 392.78 336.34 C394.01 336.88 395.25 337.40 396.48 337.93 C397.72 338.46 398.95 338.97 400.19 339.49 C401.43 340.01 402.67 340.52 403.91 341.03 C405.15 341.54 406.40 342.03 407.65 342.53 C408.90 343.03 410.14 343.52 411.39 344.01 C412.64 344.50 413.90 344.98 415.15 345.46 C416.40 345.94 417.65 346.42 418.91 346.89 C420.17 347.36 421.43 347.83 422.69 348.29 C423.95 348.75 425.21 349.21 426.47 349.66 C427.73 350.12 429.00 350.57 430.26 351.02 C431.52 351.47 432.79 351.91 434.06 352.35 C435.33 352.79 436.60 353.24 437.87 353.67 C439.14 354.11 440.41 354.53 441.68 354.96 C442.95 355.39 444.23 355.81 445.50 356.23 C446.77 356.65 448.05 357.07 449.32 357.49 C450.59 357.91 451.87 358.32 453.15 358.73 C454.43 359.14 455.71 359.54 456.99 359.95 C458.27 360.36 459.55 360.76 460.83 361.16 C462.11 361.56 463.39 361.96 464.67 362.36 C465.95 362.76 467.24 363.15 468.52 363.54 C469.80 363.93 471.09 364.31 472.38 364.70 C473.67 365.09 474.95 365.48 476.23 365.86 C477.51 366.24 478.80 366.62 480.09 367.00 C481.38 367.38 482.67 367.75 483.96 368.13 C485.25 368.50 486.54 368.88 487.83 369.25 C489.12 369.62 490.41 369.98 491.70 370.35 C492.99 370.72 494.28 371.09 495.57 371.45 C496.86 371.81 498.16 372.17 499.45 372.53 C500.74 372.89 502.03 373.25 503.33 373.60 C504.62 373.96 505.93 374.31 507.22 374.66 C508.52 375.01 509.81 375.35 511.10 375.70 C512.39 376.05 513.69 376.39 514.99 376.74 C516.29 377.09 517.59 377.43 518.89 377.77 C520.19 378.11 521.48 378.44 522.78 378.78 C524.08 379.12 525.38 379.46 526.68 379.79 C527.98 380.12 529.28 380.45 530.58 380.78 C531.88 381.11 533.19 381.44 534.49 381.77 C535.79 382.10 537.09 382.42 538.39 382.74 C539.69 383.06 541.00 383.39 542.30 383.71 C543.60 384.03 544.90 384.34 546.21 384.66 C547.52 384.98 548.83 385.30 550.13 385.61 C551.43 385.93 552.73 386.24 554.04 386.55 C555.35 386.86 556.65 387.17 557.96 387.48 C559.27 387.79 560.57 388.09 561.88 388.40 C563.19 388.70 564.49 389.01 565.80 389.31 C567.11 389.61 568.42 389.91 569.73 390.21 C571.04 390.51 572.34 390.81 573.65 391.11 C574.96 391.41 576.27 391.70 577.58 391.99 C578.89 392.28 580.20 392.58 581.51 392.87 C582.82 393.16 584.13 393.46 585.44 393.75 C586.75 394.04 588.06 394.32 589.37 394.61 C590.68 394.90 591.99 395.19 593.30 395.47 C594.61 395.75 595.93 396.04 597.24 396.32 C598.55 396.60 599.86 396.89 601.17 397.17 C602.48 397.45 603.80 397.72 605.11 398.00 C606.42 398.28 607.74 398.56 609.05 398.84 C610.36 399.12 611.68 399.39 612.99 399.66 C614.30 399.93 615.62 400.21 616.93 400.48 C618.24 400.75 619.56 401.03 620.88 401.30 C622.20 401.57 623.51 401.84 624.82 402.11 C626.13 402.38 627.45 402.64 628.77 402.91 C630.09 403.18 631.39 403.44 632.71 403.71 C634.03 403.97 635.34 404.24 636.66 404.50 C637.98 404.76 639.29 405.03 640.61 405.29 C641.93 405.55 643.24 405.82 644.56 406.08 C645.88 406.34 647.19 406.60 648.51 406.86 C649.83 407.12 651.14 407.37 652.46 407.63 C653.78 407.89 655.09 408.14 656.41 408.40 C657.73 408.66 659.04 408.91 660.36 409.17 C661.68 409.43 662.99 409.69 664.31 409.94 C665.63 410.19 666.95 410.45 668.27 410.70 C669.59 410.95 670.90 411.21 672.22 411.46 C673.54 411.71 674.86 411.97 676.18 412.22 C677.50 412.47 678.81 412.72 680.13 412.97 C681.45 413.22 682.77 413.47 684.09 413.72 C685.41 413.97 686.72 414.22 688.04 414.47 C689.36 414.72 690.68 414.97 692.00 415.22 C693.32 415.47 694.63 415.71 695.95 415.96 C697.27 416.21 698.59 416.45 699.91 416.70 C701.23 416.95 702.55 417.20 703.87 417.45 C705.19 417.70 706.51 417.94 707.83 418.19 C709.15 418.44 710.46 418.69 711.78 418.93 C713.10 419.18 714.42 419.42 715.74 419.66 C717.06 419.91 718.38 420.15 719.70 420.40 C721.02 420.65 722.34 420.89 723.66 421.14 C724.98 421.39 726.30 421.63 727.62 421.88 C728.94 422.12 730.25 422.37 731.57 422.61 C732.89 422.86 734.21 423.10 735.53 423.35 C736.85 423.60 738.17 423.84 739.49 424.09 C740.81 424.34 742.13 424.58 743.45 424.83 C744.77 425.07 746.09 425.31 747.41 425.56 C748.73 425.81 750.04 426.05 751.36 426.30 C752.68 426.55 754.00 426.79 755.32 427.04 C756.64 427.29 757.96 427.54 759.28 427.79 C760.60 428.04 761.92 428.28 763.24 428.53 C764.56 428.78 765.87 429.03 767.19 429.28 C768.51 429.53 769.83 429.77 771.15 430.02 C772.47 430.27 773.78 430.52 775.10 430.77 C776.42 431.02 777.74 431.27 779.06 431.52 C780.38 431.77 781.69 432.03 783.01 432.28 C784.33 432.53 785.65 432.79 786.97 433.04 C788.29 433.29 789.60 433.55 790.92 433.80 C792.24 434.05 793.56 434.31 794.88 434.56 C796.20 434.81 797.51 435.07 798.83 435.33 C800.15 435.59 801.46 435.84 802.78 436.10 C804.10 436.36 805.41 436.61 806.73 436.87 C808.05 437.13 809.36 437.39 810.68 437.65 C812.00 437.91 813.31 438.17 814.63 438.43 C815.95 438.69 817.26 438.95 818.58 439.21 C819.90 439.47 821.21 439.74 822.53 440.00 C823.85 440.26 825.16 440.53 826.48 440.79 C827.80 441.05 829.11 441.31 830.42 441.58 C831.73 441.84 833.05 442.11 834.37 442.38 C835.69 442.65 837.01 442.91 838.32 443.18 C839.63 443.45 840.94 443.71 842.26 443.98 C843.58 444.25 844.89 444.52 846.21 444.79 C847.53 445.06 848.84 445.33 850.15 445.60 C851.46 445.87 852.78 446.14 854.09 446.41 C855.40 446.68 856.71 446.96 858.03 447.23 C859.35 447.50 860.66 447.78 861.98 448.05 C863.30 448.32 864.61 448.60 865.92 448.88 C867.23 449.16 868.55 449.43 869.86 449.71 C871.17 449.99 872.49 450.26 873.80 450.54 C875.11 450.82 876.42 451.09 877.73 451.37 C879.04 451.65 880.36 451.93 881.67 452.21 C882.98 452.49 884.30 452.78 885.61 453.06 C886.92 453.34 888.24 453.62 889.55 453.90 C890.86 454.18 892.17 454.47 893.48 454.75 C894.79 455.03 896.11 455.32 897.42 455.60 C898.73 455.88 900.04 456.17 901.35 456.46 C902.66 456.75 903.97 457.03 905.28 457.32 C906.59 457.61 907.91 457.90 909.22 458.19 C910.53 458.48 911.84 458.76 913.15 459.05 C914.46 459.34 915.77 459.64 917.08 459.93 C918.39 460.22 919.70 460.51 921.01 460.80 C922.32 461.09 923.63 461.39 924.94 461.68 C926.25 461.97 927.55 462.26 928.86 462.56 C930.17 462.86 931.48 463.15 932.79 463.45 C934.10 463.75 935.41 464.04 936.72 464.34 C938.03 464.64 939.33 464.93 940.64 465.23 C941.95 465.53 943.26 465.83 944.57 466.13 C945.88 466.43 947.18 466.73 948.49 467.03 C949.80 467.33 951.11 467.63 952.42 467.93 C953.73 468.23 955.03 468.53 956.34 468.84 C957.65 469.14 958.95 469.45 960.26 469.76 C961.57 470.07 962.88 470.38 964.18 470.69 C965.48 471.00 966.79 471.31 968.09 471.62 C969.39 471.93 970.71 472.25 972.01 472.57 C973.31 472.89 974.62 473.21 975.92 473.53 C977.22 473.85 978.52 474.18 979.82 474.51 C981.12 474.84 982.42 475.18 983.72 475.51 C985.02 475.84 986.32 476.18 987.62 476.52 C988.92 476.86 990.22 477.21 991.51 477.56 C992.80 477.91 994.10 478.26 995.39 478.62 C996.68 478.98 997.98 479.34 999.27 479.71 C1000.56 480.08 1001.85 480.44 1003.14 480.82 C1004.43 481.19 1005.72 481.57 1007.00 481.96 C1008.28 482.35 1009.57 482.74 1010.85 483.14 C1012.13 483.54 1013.41 483.93 1014.69 484.34 C1015.97 484.75 1017.25 485.16 1018.52 485.58 C1019.79 486.00 1021.07 486.42 1022.34 486.85 C1023.61 487.28 1024.88 487.72 1026.15 488.16 C1027.42 488.60 1028.69 489.05 1029.95 489.50 C1031.21 489.95 1032.47 490.42 1033.73 490.89 C1034.99 491.36 1036.24 491.84 1037.49 492.32 C1038.74 492.80 1039.99 493.29 1041.24 493.79 C1042.49 494.29 1043.72 494.80 1044.96 495.32 C1046.20 495.84 1047.44 496.36 1048.67 496.89 C1049.90 497.42 1051.13 497.96 1052.35 498.51 C1053.57 499.06 1054.80 499.62 1056.01 500.19 C1057.22 500.76 1058.43 501.34 1059.64 501.93 C1060.85 502.52 1062.05 503.12 1063.25 503.73 C1064.45 504.34 1065.64 504.96 1066.82 505.59 C1068.00 506.22 1069.18 506.87 1070.35 507.52 C1071.52 508.17 1072.69 508.84 1073.85 509.52 C1075.01 510.20 1076.16 510.89 1077.30 511.59 C1078.44 512.29 1079.58 513.00 1080.71 513.73 C1081.84 514.46 1082.96 515.20 1084.07 515.95 C1085.18 516.70 1086.28 517.47 1087.37 518.25 C1088.46 519.03 1089.55 519.82 1090.62 520.62 C1091.69 521.42 1092.76 522.25 1093.81 523.08 C1094.86 523.91 1095.90 524.76 1096.93 525.62 C1097.96 526.48 1098.97 527.36 1099.98 528.25 C1100.99 529.14 1101.98 530.04 1102.96 530.96 C1103.94 531.88 1104.91 532.81 1105.86 533.76 C1106.81 534.71 1107.75 535.66 1108.67 536.64 C1109.59 537.62 1110.50 538.61 1111.39 539.61 C1112.28 540.61 1113.15 541.63 1114.01 542.66 C1114.87 543.69 1115.71 544.74 1116.53 545.80 C1117.35 546.86 1118.16 547.94 1118.94 549.03 C1119.72 550.12 1120.49 551.22 1121.23 552.34 C1121.97 553.46 1122.70 554.59 1123.40 555.73 C1124.10 556.88 1124.78 558.04 1125.43 559.21 C1126.08 560.38 1126.71 561.57 1127.31 562.77 C1127.91 563.97 1128.49 565.18 1129.04 566.40 C1129.59 567.62 1130.12 568.86 1130.63 570.10 C1131.14 571.34 1131.62 572.60 1132.09 573.86 C1132.56 575.12 1133.00 576.38 1133.43 577.65 C1133.86 578.92 1134.28 580.20 1134.68 581.48 C1135.08 582.76 1135.47 584.04 1135.85 585.33 C1136.23 586.62 1136.61 587.91 1136.97 589.20 C1137.33 590.49 1137.68 591.79 1138.03 593.08 C1138.38 594.38 1138.72 595.67 1139.06 596.97 C1139.40 598.27 1139.73 599.58 1140.05 600.88 C1140.37 602.18 1140.69 603.48 1141.00 604.79 C1141.31 606.10 1141.62 607.40 1141.92 608.71 C1142.22 610.02 1142.51 611.33 1142.80 612.64 C1143.09 613.95 1143.37 615.26 1143.65 616.57 C1143.93 617.88 1144.20 619.19 1144.47 620.51 C1144.74 621.83 1144.99 623.14 1145.25 624.46 C1145.51 625.78 1145.76 627.10 1146.00 628.42 C1146.24 629.74 1146.49 631.06 1146.72 632.38 C1146.95 633.70 1147.19 635.03 1147.41 636.35 C1147.63 637.67 1147.86 639.00 1148.07 640.32 C1148.28 641.64 1148.49 642.96 1148.70 644.29 C1148.91 645.62 1149.11 646.94 1149.31 648.27 C1149.51 649.60 1149.70 650.93 1149.89 652.26 C1150.08 653.59 1150.27 654.92 1150.45 656.25 C1150.63 657.58 1150.81 658.91 1150.98 660.24 C1151.15 661.57 1151.32 662.90 1151.49 664.23 C1151.66 665.56 1151.82 666.90 1151.98 668.23 C1152.14 669.56 1152.30 670.90 1152.45 672.23 C1152.60 673.56 1152.76 674.90 1152.90 676.23 C1153.05 677.56 1153.18 678.89 1153.32 680.23 C1153.46 681.57 1153.60 682.90 1153.73 684.24 C1153.87 685.58 1154.00 686.90 1154.13 688.24 C1154.26 689.58 1154.38 690.91 1154.50 692.25 C1154.62 693.59 1154.74 694.92 1154.86 696.26 C1154.98 697.60 1155.10 698.93 1155.21 700.27 C1155.32 701.61 1155.43 702.94 1155.54 704.28 C1155.65 705.62 1155.75 706.96 1155.86 708.30 C1155.96 709.64 1156.07 710.97 1156.17 712.31 C1156.27 713.65 1156.37 714.99 1156.47 716.33 C1156.57 717.67 1156.66 719.00 1156.76 720.34 C1156.86 721.68 1156.95 723.02 1157.04 724.36 C1157.13 725.70 1157.22 727.04 1157.31 728.38 C1157.40 729.72 1157.48 731.05 1157.57 732.39 C1157.66 733.73 1157.74 735.07 1157.83 736.41 C1157.91 737.75 1158.00 739.09 1158.08 740.43 C1158.16 741.77 1158.25 743.11 1158.33 744.45 C1158.41 745.79 1158.49 747.13 1158.57 748.47 C1158.65 749.81 1158.77 751.82 1158.81 752.49" stroke="#fd8408" stroke-width="6.0" stroke-linecap="butt"/>
<circle cx="1158.81" cy="752.49" r="3.00" fill="#fd8408" stroke="none"/>
</g>
<rect x="190.10" y="1.20" width="1085.60" height="797.70" fill="none" stroke="#141414" stroke-width="3.0" stroke-linejoin="round"/>
<path d="M190.10 1.20 H1275.70 M190.10 798.90 H1275.70" fill="none" stroke="#141414" stroke-width="3.4" stroke-linecap="round"/>
<g stroke="#141414" stroke-width="2.9" stroke-linecap="butt">
<line x1="250.30" y1="798.90" x2="250.30" y2="816.40"/>
<line x1="250.30" y1="1.20" x2="250.30" y2="18.70"/>
<line x1="400.93" y1="798.90" x2="400.93" y2="808.30"/>
<line x1="400.93" y1="1.20" x2="400.93" y2="10.60"/>
<line x1="551.57" y1="798.90" x2="551.57" y2="816.40"/>
<line x1="551.57" y1="1.20" x2="551.57" y2="18.70"/>
<line x1="702.20" y1="798.90" x2="702.20" y2="808.30"/>
<line x1="702.20" y1="1.20" x2="702.20" y2="10.60"/>
<line x1="852.83" y1="798.90" x2="852.83" y2="816.40"/>
<line x1="852.83" y1="1.20" x2="852.83" y2="18.70"/>
<line x1="1003.47" y1="798.90" x2="1003.47" y2="808.30"/>
<line x1="1003.47" y1="1.20" x2="1003.47" y2="10.60"/>
<line x1="1154.10" y1="798.90" x2="1154.10" y2="816.40"/>
<line x1="1154.10" y1="1.20" x2="1154.10" y2="18.70"/>
</g>
<g stroke="#141414" stroke-width="3.3" stroke-linecap="butt">
<line x1="190.10" y1="752.30" x2="172.60" y2="752.30"/>
<line x1="1275.70" y1="752.30" x2="1258.20" y2="752.30"/>
<line x1="190.10" y1="681.83" x2="180.70" y2="681.83"/>
<line x1="1275.70" y1="681.83" x2="1266.30" y2="681.83"/>
<line x1="190.10" y1="611.36" x2="172.60" y2="611.36"/>
<line x1="1275.70" y1="611.36" x2="1258.20" y2="611.36"/>
<line x1="190.10" y1="540.89" x2="180.70" y2="540.89"/>
<line x1="1275.70" y1="540.89" x2="1266.30" y2="540.89"/>
<line x1="190.10" y1="470.42" x2="172.60" y2="470.42"/>
<line x1="1275.70" y1="470.42" x2="1258.20" y2="470.42"/>
<line x1="190.10" y1="399.95" x2="180.70" y2="399.95"/>
<line x1="1275.70" y1="399.95" x2="1266.30" y2="399.95"/>
<line x1="190.10" y1="329.48" x2="172.60" y2="329.48"/>
<line x1="1275.70" y1="329.48" x2="1258.20" y2="329.48"/>
<line x1="190.10" y1="259.01" x2="180.70" y2="259.01"/>
<line x1="1275.70" y1="259.01" x2="1266.30" y2="259.01"/>
<line x1="190.10" y1="188.54" x2="172.60" y2="188.54"/>
<line x1="1275.70" y1="188.54" x2="1258.20" y2="188.54"/>
<line x1="190.10" y1="118.07" x2="180.70" y2="118.07"/>
<line x1="1275.70" y1="118.07" x2="1266.30" y2="118.07"/>
<line x1="190.10" y1="47.60" x2="172.60" y2="47.60"/>
<line x1="1275.70" y1="47.60" x2="1258.20" y2="47.60"/>
</g>
<g font-family="'Liberation Sans', sans-serif" font-size="58.3" fill="#000000" stroke="#000000" stroke-width="0.4">
<text x="163.50" y="65.20" text-anchor="end">4.2</text>
<text x="163.50" y="206.14" text-anchor="end">3.9</text>
<text x="163.50" y="347.08" text-anchor="end">3.6</text>
<text x="163.50" y="488.02" text-anchor="end">3.3</text>
<text x="163.50" y="628.96" text-anchor="end">3.0</text>
<text x="163.50" y="769.90" text-anchor="end">2.7</text>
<text x="250.30" y="871.50" text-anchor="middle">0</text>
<text x="551.57" y="871.50" text-anchor="middle">5</text>
<text x="852.83" y="871.50" text-anchor="middle">10</text>
<text x="1154.10" y="871.50" text-anchor="middle">15</text>
<text x="732.20" y="952.00" text-anchor="middle">Capacity [Ah]</text>
<text transform="translate(45.30 438.50) rotate(-90)" text-anchor="middle">U [V]</text>
<text x="1121.50" y="116.30">1C</text>
<text x="1121.50" y="187.80">3C</text>
<text x="1121.50" y="259.60">8C</text>
</g>
<g fill="none" stroke-linecap="round">
<line x1="974.20" y1="96.40" x2="1104.00" y2="96.40" stroke="#000000" stroke-width="6.6"/>
<line x1="974.20" y1="167.70" x2="1104.00" y2="167.70" stroke="#f80000" stroke-width="6.4"/>
<line x1="974.20" y1="239.60" x2="1104.00" y2="239.60" stroke="#fd8408" stroke-width="6.0"/>
</g>
</svg>
</body></html>
